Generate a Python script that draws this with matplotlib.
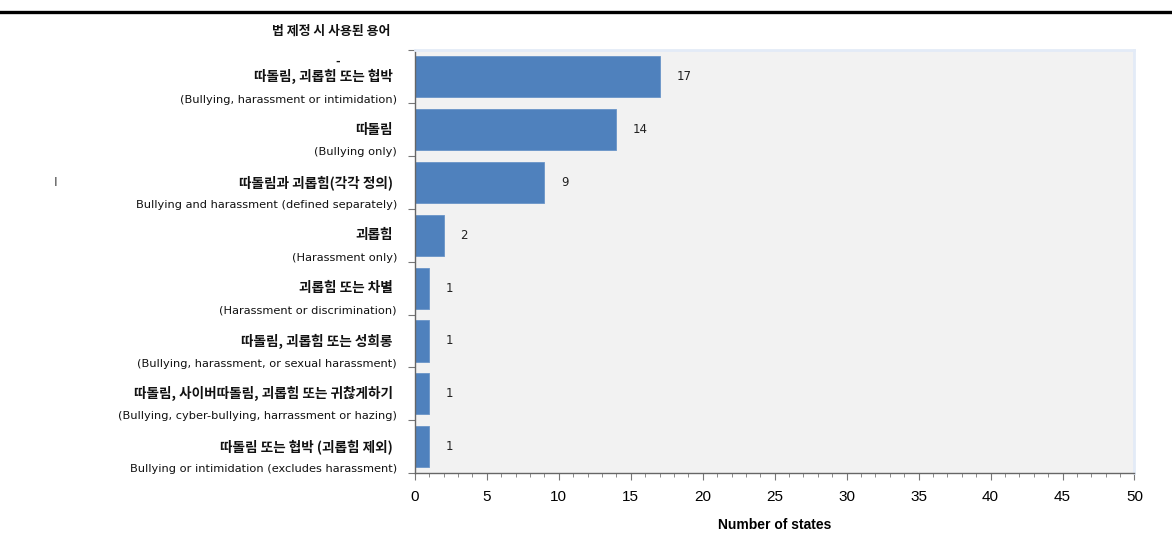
import matplotlib
matplotlib.use('Agg')
import matplotlib.pyplot as plt
import matplotlib.transforms as mtransforms
from matplotlib.ticker import MultipleLocator
from matplotlib.lines import Line2D

plt.rcParams['font.family'] = ['DejaVu Sans', 'Noto Sans CJK KR']

# Data (top to bottom)
labels_ko = [
    '따돌림, 괴롭힘 또는 협박',
    '따돌림',
    '따돌림과 괴롭힘(각각 정의)',
    '괴롭힘',
    '괴롭힘 또는 차별',
    '따돌림, 괴롭힘 또는 성희롱',
    '따돌림, 사이버따돌림, 괴롭힘 또는 귀찮게하기',
    '따돌림 또는 협박 (괴롭힘 제외)',
]
labels_en = [
    '(Bullying, harassment or intimidation)',
    '(Bullying only)',
    'Bullying and harassment (defined separately)',
    '(Harassment only)',
    '(Harassment or discrimination)',
    '(Bullying, harassment, or sexual harassment)',
    '(Bullying, cyber-bullying, harrassment or hazing)',
    'Bullying or intimidation (excludes harassment)',
]
values = [17, 14, 9, 2, 1, 1, 1, 1]
title_ko = '법 제정 시 사용된 용어'
xlabel = 'Number of states'

ko_font = ['Noto Sans CJK KR', 'DejaVu Sans']
en_font = ['DejaVu Sans', 'Noto Sans CJK KR']
num_font = ['Liberation Sans', 'DejaVu Sans']

fig = plt.figure(figsize=(11.72, 5.41), dpi=100)
ax = fig.add_axes([0.354, 0.1257, 0.614, 0.781])
ax.set_facecolor('#f2f2f2')

ypos = list(range(len(values)))
ax.barh(ypos, values, height=0.78, color='#4f81bd', edgecolor='#6a94c8', linewidth=0.6)

for y, v in zip(ypos, values):
    ax.annotate(str(v), (v, y), xytext=(12, 0), textcoords='offset points',
                va='center', ha='left', fontsize=8.5, color='#222222',
                family=['DejaVu Sans'])

ax.set_xlim(0, 50)
ax.set_ylim(len(values) - 0.5, -0.5)
ax.xaxis.set_major_locator(MultipleLocator(5))
ax.xaxis.set_minor_locator(MultipleLocator(1))
ax.set_yticks([i - 0.5 for i in range(len(values) + 1)])
ax.set_yticklabels([])
ax.tick_params(axis='x', which='major', length=5, color='#777777', labelsize=11, pad=7)
ax.tick_params(axis='x', which='minor', length=3, color='#777777')
ax.tick_params(axis='y', length=5, color='#777777')
for lbl in ax.get_xticklabels():
    lbl.set_family(num_font)
for side in ['top', 'right']:
    ax.spines[side].set_color('#e3ebf7')
    ax.spines[side].set_linewidth(2)
for side in ['left', 'bottom']:
    ax.spines[side].set_color('#666666')
    ax.spines[side].set_linewidth(1)

ax.set_xlabel(xlabel, fontsize=10, fontweight='bold', labelpad=10,
              family=['Liberation Sans', 'DejaVu Sans'])

# Category labels: Korean line at the bar center, English line just above the boundary
trans = mtransforms.blended_transform_factory(ax.transAxes, ax.transData)
for i, (ko, en) in enumerate(zip(labels_ko, labels_en)):
    ax.text(-0.031, i, ko, transform=trans, ha='right', va='center', fontsize=9.8,
            fontweight='bold', color='#111111', family=ko_font)
    ax.text(-0.025, i + 0.43, en, transform=trans, ha='right', va='center', fontsize=8.2,
            color='#111111', family=en_font)
ax.text(-0.107, -0.29, '-', transform=trans, ha='center', va='center', fontsize=8,
        fontweight='bold', color='#111111')

fig.text(0.333, 0.943, title_ko, ha='right', va='center', fontsize=9.3, fontweight='bold',
         color='#111111', family=ko_font)
fig.text(0.047, 0.662, 'I', ha='center', va='center', fontsize=9, color='#444444')

fig.add_artist(Line2D([0, 1], [0.978, 0.978], transform=fig.transFigure, color='black', linewidth=2.4))

fig.savefig('out.png', dpi=100)
